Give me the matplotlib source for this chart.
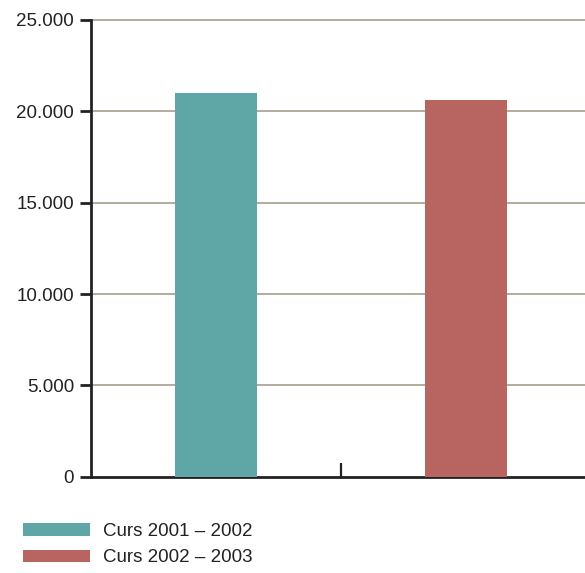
import matplotlib.pyplot as plt

# data
courses = ['Curs 2001 – 2002', 'Curs 2002 – 2003']
students = [21000, 20600]
colors = ['#5fa6a6', '#b86562']
yticks = [0, 5000, 10000, 15000, 20000, 25000]
ytick_labels = ['0', '5.000', '10.000', '15.000', '20.000', '25.000']

plt.rcParams['font.family'] = ['Liberation Sans', 'DejaVu Sans']
plt.rcParams['font.size'] = 13.5

fig = plt.figure(figsize=(5.85, 5.73), dpi=100)
ax = fig.add_axes([90.7 / 585, 1 - 476.7 / 573, 1 - 90.7 / 585, (476.7 - 20) / 573])

positions = list(range(len(students)))
for x, v, c, lab in zip(positions, students, colors, courses):
    ax.bar(x, v, width=0.327, color=c, label=lab, zorder=3)

ax.set_ylim(0, 25000)
ax.set_xlim(-0.5, 0.5 + 244.2 / 250)
ax.set_yticks(yticks)
ax.set_yticklabels(ytick_labels, color='#222222')
for y in yticks[1:]:
    ax.axhline(y, color='#b3ab9c', linewidth=1.4, zorder=1, clip_on=False)

ax.set_xticks([0.5])
ax.set_xticklabels([''])
ax.tick_params(axis='x', direction='in', length=10, width=1.6, color='#222222')
ax.tick_params(axis='y', direction='out', length=8, width=2, color='#222222', pad=4)

for s in ['top', 'right']:
    ax.spines[s].set_visible(False)
for s in ['left', 'bottom']:
    ax.spines[s].set_linewidth(2)
    ax.spines[s].set_color('#222222')

fig.legend(loc='upper left', bbox_to_anchor=(23 / 585, 1 - 523 / 573),
           frameon=False, borderpad=0, borderaxespad=0,
           handlelength=3.57, handleheight=0.65, handletextpad=0.7,
           labelspacing=0.5, fontsize=13.5, labelcolor='#222222')

fig.savefig('out.png', dpi=100)
